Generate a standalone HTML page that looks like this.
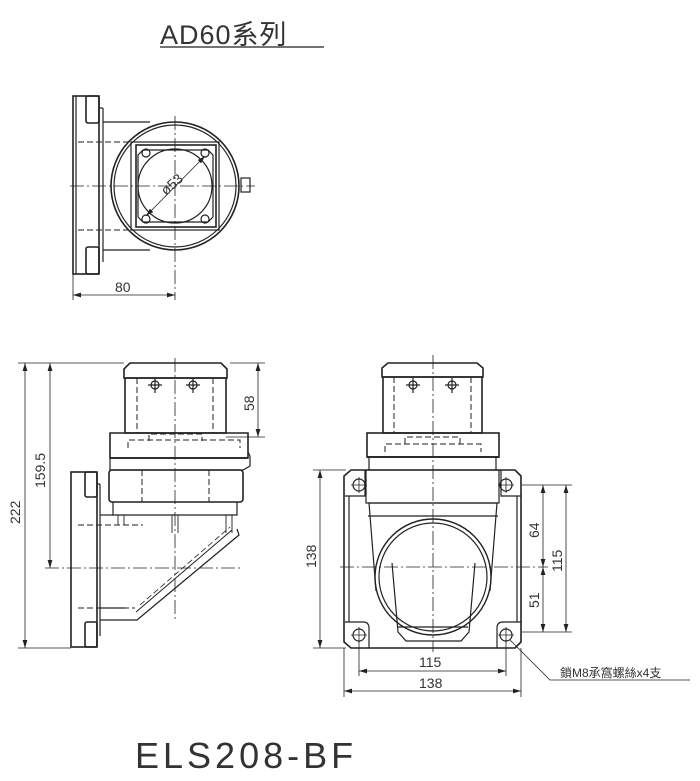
<!DOCTYPE html>
<html><head><meta charset="utf-8"><style>
html,body{margin:0;padding:0;background:#fff;width:700px;height:781px;overflow:hidden}
svg{display:block}
text{font-family:"Liberation Sans","Noto Sans CJK TC",sans-serif;fill:#333}
</style></head><body>
<svg width="700" height="781" viewBox="0 0 700 781" xmlns="http://www.w3.org/2000/svg">
<defs>
<marker id="a" viewBox="0 0 10 6" refX="10" refY="3" markerWidth="10" markerHeight="6" orient="auto-start-reverse"><path d="M0,0L10,3L0,6z" fill="#222"/></marker>
</defs>
<g stroke="#222" fill="none" stroke-width="1.2">
<text x="160" y="44" font-size="27" stroke="none" letter-spacing="1">AD60系列</text>
<line x1="160" y1="47" x2="324" y2="47"/>

<rect x="73" y="96" width="26" height="178" stroke-width="1.6"/>
<line x1="76" y1="96" x2="76" y2="274"/>
<rect x="86" y="96" width="13" height="27" rx="2" stroke-width="1.6"/>
<rect x="86" y="247" width="13" height="27" rx="2" stroke-width="1.6"/>
<line x1="99" y1="108" x2="103" y2="108"/><line x1="103" y1="108" x2="103" y2="262"/>
<line x1="103" y1="122" x2="150" y2="122"/><line x1="103" y1="250" x2="150" y2="250"/>
<circle cx="175" cy="186" r="64" stroke-width="1.6"/>
<circle cx="175" cy="186" r="61"/>
<rect x="131" y="142" width="88" height="88"/>
<rect x="136" y="145" width="80" height="82" stroke-width="1.6"/>
<path d="M143,150h65l5,5v62l-5,5h-65l-5-5v-62z"/>
<circle cx="175" cy="186" r="37"/>
<circle cx="146" cy="153" r="4"/><circle cx="205" cy="153" r="4"/>
<circle cx="146" cy="219" r="4"/><circle cx="205" cy="219" r="4"/>
<rect x="241" y="178" width="9" height="14"/>
<g stroke-dasharray="6,3" stroke-width="1">
<line x1="78" y1="142" x2="131" y2="142"/><line x1="78" y1="230" x2="131" y2="230"/>
</g>
<g stroke-dasharray="14,3,2,3" stroke-width="0.8">
<line x1="70" y1="186" x2="255" y2="186"/><line x1="175" y1="116" x2="175" y2="300"/>
</g>
<line x1="146" y1="216" x2="205" y2="156" marker-start="url(#a)" marker-end="url(#a)" stroke-width="0.8"/>
<text font-size="14" stroke="none" transform="translate(166,196) rotate(-42)">ø53</text>
<line x1="73" y1="274" x2="73" y2="300" stroke-width="0.8"/>
<line x1="73" y1="295" x2="175" y2="295" marker-start="url(#a)" marker-end="url(#a)" stroke-width="0.8"/>
<text x="115" y="292" font-size="14" stroke="none">80</text>

<path d="M124,378v-9l6-6h91l6,6v9z" stroke-width="1.6"/>
<rect x="125" y="378" width="101" height="55" stroke-width="1.6"/>
<g stroke-dasharray="6,3" stroke-width="1">
<line x1="137" y1="378" x2="137" y2="433"/><line x1="213" y1="378" x2="213" y2="433"/>
<path d="M128,448v-8h112v8"/><path d="M149,441v-7h53v7"/>
<line x1="142" y1="470" x2="142" y2="502"/><line x1="209" y1="470" x2="209" y2="502"/>
<line x1="78" y1="525" x2="143" y2="525"/><line x1="78" y1="608" x2="135" y2="608"/>
</g>
<circle cx="155" cy="385" r="4"/><line x1="155" y1="378" x2="155" y2="393"/><line x1="148" y1="385" x2="162" y2="385"/>
<circle cx="193" cy="385" r="4"/><line x1="193" y1="378" x2="193" y2="393"/><line x1="186" y1="385" x2="200" y2="385"/>
<path d="M110,433h138v25h-138z" stroke-width="1.6"/>
<path d="M248,452l2,4v10l-7,4h-133v-12" />
<line x1="110" y1="458" x2="248" y2="458" stroke-width="1.8"/>
<rect x="109" y="470" width="134" height="32" rx="3" stroke-width="1.6"/>
<path d="M113,502v13h124v-13"/>
<rect x="71" y="472" width="26" height="175" stroke-width="1.6"/>
<rect x="85" y="472" width="12" height="25" rx="2" stroke-width="1.6"/>
<rect x="85" y="622" width="12" height="25" rx="2" stroke-width="1.6"/>
<line x1="97" y1="484" x2="100" y2="484"/><line x1="100" y1="484" x2="100" y2="636"/>
<line x1="100" y1="515" x2="113" y2="515"/>
<path d="M100,608h25M100,620h37L239,535l-2-6"/>
<path d="M136,612L232,530" stroke-width="1"/>
<path d="M140,605L230,527" stroke-dasharray="6,3" stroke-width="0.8"/>
<path d="M118,515v10M124,515v10M172,515v18M178,515v18M226,515v18M232,515v18" stroke-width="0.9"/>
<g stroke-dasharray="14,3,2,3" stroke-width="0.8">
<line x1="175" y1="358" x2="175" y2="620"/><line x1="45" y1="568" x2="242" y2="568"/>
</g>
<g stroke-width="0.8">
<line x1="18" y1="363" x2="124" y2="363"/><line x1="18" y1="648" x2="71" y2="648"/>
<line x1="230" y1="363" x2="265" y2="363"/><line x1="226" y1="437" x2="265" y2="437"/>
<line x1="25" y1="363" x2="25" y2="648" marker-start="url(#a)" marker-end="url(#a)"/>
<line x1="50" y1="363" x2="50" y2="568" marker-start="url(#a)" marker-end="url(#a)"/>
<line x1="258" y1="363" x2="258" y2="437" marker-start="url(#a)" marker-end="url(#a)"/>
</g>
<text font-size="14" stroke="none" transform="translate(20,524) rotate(-90)">222</text>
<text font-size="14" stroke="none" transform="translate(45,488) rotate(-90)">159.5</text>
<text font-size="14" stroke="none" transform="translate(254,411) rotate(-90)">58</text>

<path d="M382,377v-9l6-5h89l6,5v9z" stroke-width="1.6"/>
<rect x="383" y="377" width="99" height="56" stroke-width="1.6"/>
<g stroke-dasharray="6,3" stroke-width="1">
<line x1="394" y1="377" x2="394" y2="433"/><line x1="471" y1="377" x2="471" y2="433"/>
<path d="M385,452v-8h96v8"/><path d="M405,444v-7h55v7"/>
</g>
<circle cx="413" cy="385" r="4"/><line x1="413" y1="378" x2="413" y2="393"/><line x1="406" y1="385" x2="420" y2="385"/>
<circle cx="452" cy="385" r="4"/><line x1="452" y1="378" x2="452" y2="393"/><line x1="445" y1="385" x2="459" y2="385"/>
<rect x="367" y="433" width="132" height="24" stroke-width="1.6"/>
<line x1="367" y1="457" x2="499" y2="457" stroke-width="1.8"/>
<line x1="369" y1="457" x2="369" y2="470"/><line x1="496" y1="457" x2="496" y2="470"/>
<path d="M351,470h164l6,6v166l-6,6h-164l-7-6v-166z" stroke-width="1.6"/>
<line x1="349" y1="496" x2="349" y2="622"/><line x1="517" y1="496" x2="517" y2="622"/>
<path d="M345,496h20v-26M521,496h-20v-26" />
<path d="M345,622h18q6,0 6,6v20M521,622h-18q-6,0-6,6v20"/>
<rect x="366" y="470" width="133" height="33"/>
<line x1="368" y1="503" x2="498" y2="503"/>
<line x1="368" y1="516" x2="498" y2="516"/>
<path d="M369,503l7,88M497,503l-7,88"/>
<circle cx="433" cy="577" r="58" stroke-width="1.4"/>
<circle cx="433" cy="577" r="54"/>
<path d="M392,563l6,69l8,9h55l8-9l6-69"/>
<path d="M397,627h71"/>
<circle cx="359" cy="485" r="6"/><circle cx="506" cy="485" r="6"/>
<circle cx="359" cy="635" r="6"/><circle cx="506" cy="635" r="6"/>
<g stroke-width="0.8">
<path d="M359,477v16M351,485h16M506,477v16M498,485h16M359,627v16M351,635h16M506,627v16M498,635h16"/>
</g>
<g stroke-dasharray="14,3,2,3" stroke-width="0.8">
<line x1="433" y1="355" x2="433" y2="652"/><line x1="340" y1="567" x2="548" y2="567"/>
</g>
<g stroke-width="0.8">
<line x1="313" y1="470" x2="346" y2="470"/><line x1="313" y1="648" x2="346" y2="648"/>
<line x1="320" y1="470" x2="320" y2="648" marker-start="url(#a)" marker-end="url(#a)"/>
<line x1="522" y1="485" x2="572" y2="485"/><line x1="522" y1="632" x2="572" y2="632"/>
<line x1="566" y1="485" x2="566" y2="632" marker-start="url(#a)" marker-end="url(#a)"/>
<line x1="543" y1="485" x2="543" y2="567" marker-start="url(#a)" marker-end="url(#a)"/>
<line x1="543" y1="567" x2="543" y2="632" marker-start="url(#a)" marker-end="url(#a)"/>
<line x1="359" y1="640" x2="359" y2="676"/><line x1="506" y1="640" x2="506" y2="676"/>
<line x1="344" y1="648" x2="344" y2="697"/><line x1="521" y1="648" x2="521" y2="697"/>
<line x1="359" y1="671" x2="506" y2="671" marker-start="url(#a)" marker-end="url(#a)"/>
<line x1="344" y1="691" x2="521" y2="691" marker-start="url(#a)" marker-end="url(#a)"/>
<path d="M510,640L550,680H690"/>
</g>
<text font-size="14" stroke="none" transform="translate(316,568) rotate(-90)">138</text>
<text font-size="14" stroke="none" transform="translate(562,572) rotate(-90)">115</text>
<text font-size="14" stroke="none" transform="translate(539,538) rotate(-90)">64</text>
<text font-size="14" stroke="none" transform="translate(539,608) rotate(-90)">51</text>
<text x="419" y="667" font-size="14" stroke="none">115</text>
<text x="419" y="688" font-size="14" stroke="none">138</text>
<text x="560" y="677" font-size="12" stroke="none">鎖M8承窩螺絲x4支</text>

<text x="135" y="768" font-size="36" stroke="none" letter-spacing="4">ELS208-BF</text>
</g>
</svg>
</body></html>
